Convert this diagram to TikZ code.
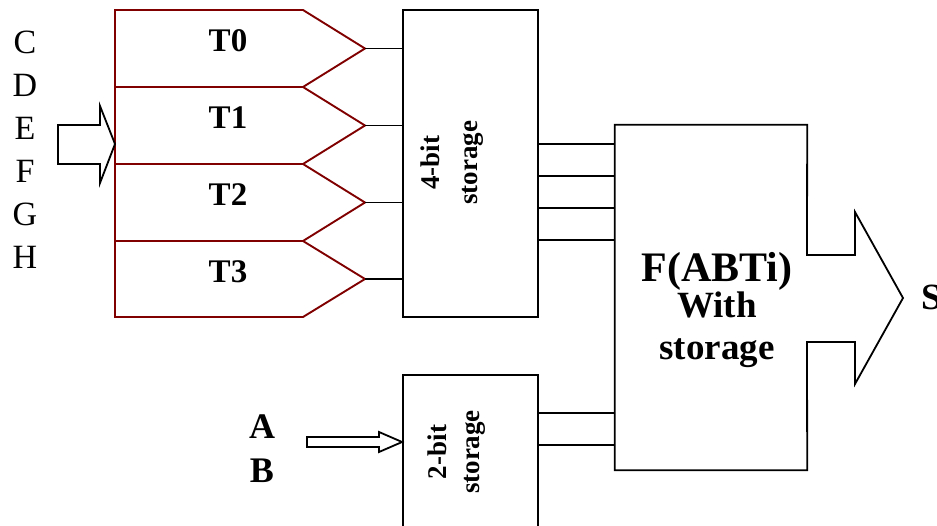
\documentclass[tikz,border=0pt]{standalone}
\usepackage{fontspec}
\setmainfont{Liberation Serif}
\definecolor{tred}{RGB}{128,0,0}
\begin{document}
\begin{tikzpicture}[x=1pt,y=-1pt,
  tline/.style={draw=tred,line width=1.9pt,line join=miter},
  bline/.style={draw=black,line width=1.8pt,line join=miter},
  box/.style={bline,rectangle,inner sep=0pt},
  tlbl/.style={font=\fontsize{33}{38}\selectfont\bfseries,inner sep=0pt,anchor=base},
  inlbl/.style={font=\fontsize{34}{38}\selectfont,inner sep=0pt,anchor=base},
  rotlbl/.style={rotate=90,align=center,inner sep=0pt},
  biglbl/.style={font=\fontsize{37}{42}\selectfont\bfseries,inner sep=0pt,anchor=base}]
\useasboundingbox (0,0) rectangle (937,526);

% T blocks
\foreach \i/\top/\mid/\bot in {0/10/48.5/87,1/87/125.5/164,2/164/202.5/241,3/241/279/317}{
  \draw[tline] (115,\top) -- (303,\top) -- (365,\mid) -- (303,\bot) -- (115,\bot) -- cycle;
  \coordinate (t\i) at (365,\mid);
}
\node[tlbl] (lt0) at (228,52) {T0};
\node[tlbl] (lt1) at (228,129) {T1};
\node[tlbl] (lt2) at (228,206) {T2};
\node[tlbl] (lt3) at (228,283) {T3};

% input letters
\node[inlbl] (lc) at (25,54) {C};
\node[inlbl] (ld) at (25,97) {D};
\node[inlbl] (le) at (25,140) {E};
\node[inlbl] (lf) at (25,183) {F};
\node[inlbl] (lg) at (25,226) {G};
\node[inlbl] (lh) at (25,269) {H};

% hollow input arrow
\coordinate (intip) at (115,144);
\draw[bline] (58,125) -- (100,125) -- (100,106) -- (intip) -- (100,183) -- (100,164) -- (58,164) -- cycle;

% 4-bit storage
\node[box,minimum width=135pt,minimum height=307pt] (four) at (470.5,163.5) {};
\node[rotlbl,font=\fontsize{27}{38}\selectfont\bfseries] (fourtxt) at (452.5,163) {4-bit\\storage};
\foreach \i in {0,1,2,3}{
  \draw[bline] (t\i) -- (t\i -| four.west);
}

% 2-bit storage (extends below picture)
\node[box,minimum width=135pt,minimum height=175pt] (two) at (470.5,462.5) {};
\node[rotlbl,font=\fontsize{27}{33}\selectfont\bfseries] (twotxt) at (456.5,452) {2-bit\\storage};

% A B input
\node[font=\fontsize{36}{40}\selectfont\bfseries,inner sep=0pt,anchor=base] (la) at (262,438) {A};
\node[font=\fontsize{36}{40}\selectfont\bfseries,inner sep=0pt,anchor=base] (lb) at (262,482) {B};
\coordinate (abtip) at (two.west |- 0,442);
\draw[bline] (307,437) -- (379,437) -- (379,432) -- (abtip) -- (379,452) -- (379,447) -- (307,447) -- cycle;

% big function box with output arrow
\node[minimum width=192pt,minimum height=345pt,inner sep=0pt] (big) at (711,297.5) {};
\draw[bline] (807,255) -- (big.north east) -- (big.north west) -- (big.south west) -- (big.south east)
  -- (807,342) -- (855,342) -- (855,384) -- (903,298) -- (855,212) -- (855,255) -- cycle;
\node[font=\fontsize{42}{46}\selectfont\bfseries,inner sep=0pt,anchor=base] (fab) at (717,282) {F(ABTi)};
\node[biglbl] (fwith) at (717,318) {With};
\node[biglbl] (fstor) at (717,360) {storage};
\node[biglbl,anchor=base west] (ls) at (921,310) {S};

% storage to function connectors
\foreach \y in {144,176,208,240}{
  \draw[bline] (four.east |- 0,\y) -- (big.west |- 0,\y);
}
\foreach \y in {413,445}{
  \draw[bline] (two.east |- 0,\y) -- (big.west |- 0,\y);
}
\end{tikzpicture}
\end{document}
